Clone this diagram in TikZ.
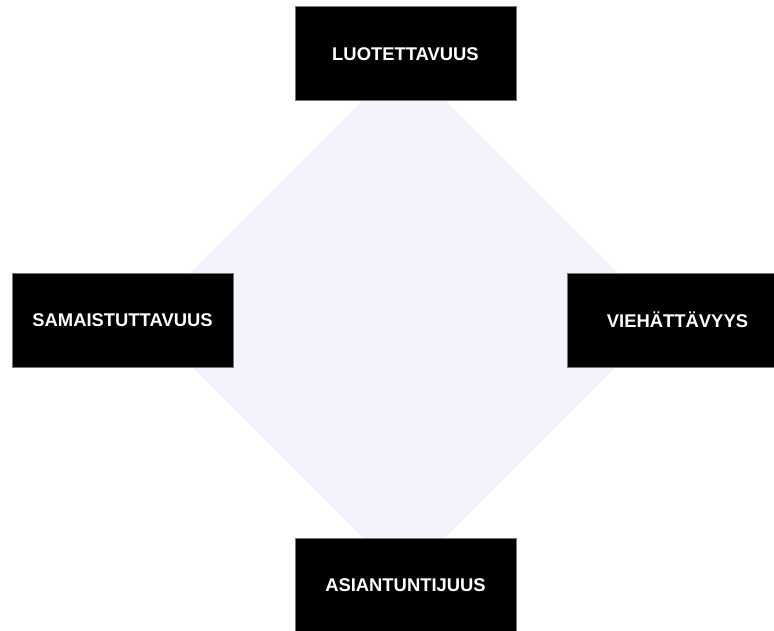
\documentclass[tikz,border=0pt]{standalone}
\usepackage{fontspec}
\setmainfont{Liberation Sans}
\usepackage{tikz}
\usetikzlibrary{positioning,shapes.geometric}
\definecolor{linegray}{RGB}{120,120,120}
\definecolor{softlilac}{RGB}{243,243,253}
\tikzset{
  tag/.style={
    draw=linegray,
    line width=0.6pt,
    fill=black,
    text=white,
    align=center,
    minimum width=221pt,
    minimum height=94pt,
    inner sep=0pt,
    font=\fontsize{18.4}{22}\selectfont\bfseries
  },
  core/.style={
    diamond,
    fill=softlilac,
    inner sep=0pt,
    minimum width=520pt,
    minimum height=520pt
  }
}
\begin{document}
\begin{tikzpicture}[x=1pt,y=-1pt]
        \useasboundingbox[fill=white] (0,0) rectangle (774,630);
        \node[core] (mid) at (404,319) {};
        \node[tag] (trust) at (405.5,53.75) {LUOTETTAVUUS};
        \node[tag] (ident) at (122.5,320) {SAMAISTUTTAVUUS};
        \node[tag] (charm) at (677.5,320) {VIEHÄTTÄVYYS};
        \node[tag] (skill) at (405.5,585) {ASIANTUNTIJUUS};
      \end{tikzpicture}
\end{document}
